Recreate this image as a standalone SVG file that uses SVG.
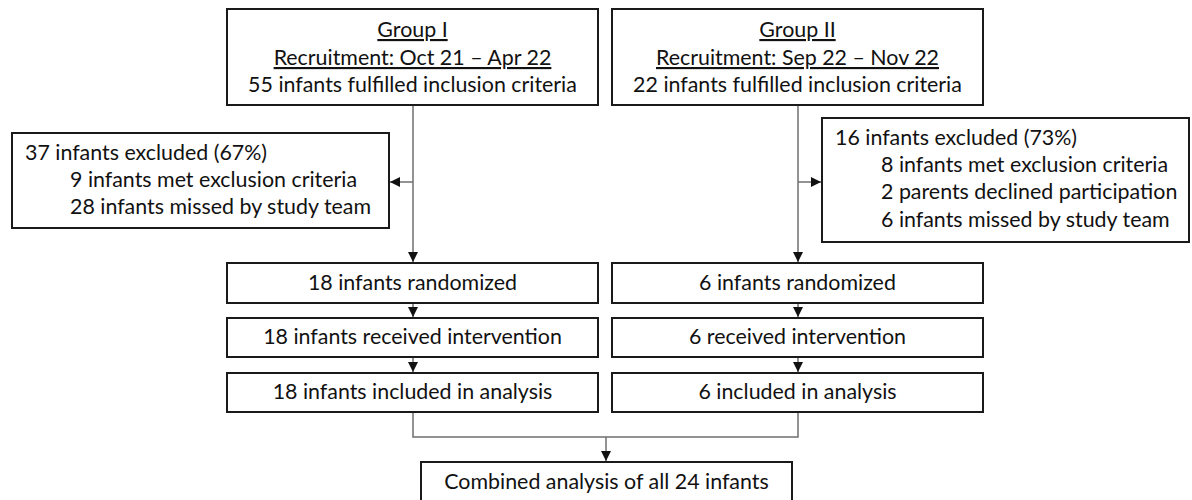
<svg xmlns="http://www.w3.org/2000/svg" width="1192" height="500" viewBox="0 0 1192 500">
<style>
.box{fill:#fff;stroke:#1a1a1a;stroke-width:2}
text{font-family:Lato,"Liberation Sans",sans-serif;font-size:21.4px;fill:#111}
.c{text-anchor:middle}
.u{text-decoration:underline}
.ln{fill:none;stroke:#6f6f6f;stroke-width:1.5}
</style>
<defs>
<marker id="ah" viewBox="0 0 10 10" refX="10" refY="5" markerWidth="10" markerHeight="10" markerUnits="userSpaceOnUse" orient="auto">
<path d="M0,0 L10,5 L0,10 z" fill="#111"/>
</marker>
</defs>
<rect width="1192" height="500" fill="#fff"/>
<g id="connectors">
<path class="ln" d="M413,105 V262" marker-end="url(#ah)"/>
<path class="ln" d="M413,182 H390" marker-end="url(#ah)"/>
<path class="ln" d="M798,105 V262" marker-end="url(#ah)"/>
<path class="ln" d="M798,182 H821" marker-end="url(#ah)"/>
<path class="ln" d="M413,303 V317" marker-end="url(#ah)"/>
<path class="ln" d="M413,357 V372" marker-end="url(#ah)"/>
<path class="ln" d="M798,303 V317" marker-end="url(#ah)"/>
<path class="ln" d="M798,357 V372" marker-end="url(#ah)"/>
<path class="ln" d="M413,412 V437 H798 V412"/>
<path class="ln" d="M606,437 V461" marker-end="url(#ah)"/>
</g>
<g id="group1">
<rect class="box" x="227" y="9" width="371" height="96"/>
<text class="c u" x="412.5" y="37">Group I</text>
<text class="c u" x="412.5" y="65">Recruitment: Oct 21 – Apr 22</text>
<text class="c" x="412.5" y="92">55 infants fulfilled inclusion criteria</text>
</g>
<g id="group2">
<rect class="box" x="612" y="9" width="371" height="96"/>
<text class="c u" x="797.5" y="37">Group II</text>
<text class="c u" x="797.5" y="65">Recruitment: Sep 22 – Nov 22</text>
<text class="c" x="797.5" y="92">22 infants fulfilled inclusion criteria</text>
</g>
<g id="excluded1">
<rect class="box" x="12" y="133" width="377" height="95"/>
<text x="25" y="160">37 infants excluded (67%)</text>
<text x="70" y="187">9 infants met exclusion criteria</text>
<text x="70" y="214">28 infants missed by study team</text>
</g>
<g id="excluded2">
<rect class="box" x="822" y="118" width="367" height="124"/>
<text x="835" y="145">16 infants excluded (73%)</text>
<text x="881" y="172">8 infants met exclusion criteria</text>
<text x="881" y="199">2 parents declined participation</text>
<text x="881" y="227">6 infants missed by study team</text>
</g>
<g id="rand1">
<rect class="box" x="227" y="263" width="371" height="40"/>
<text class="c" x="412.5" y="290">18 infants randomized</text>
</g>
<g id="interv1">
<rect class="box" x="227" y="318" width="371" height="39"/>
<text class="c" x="412.5" y="344">18 infants received intervention</text>
</g>
<g id="anal1">
<rect class="box" x="227" y="373" width="371" height="39"/>
<text class="c" x="412.5" y="399">18 infants included in analysis</text>
</g>
<g id="rand2">
<rect class="box" x="612" y="263" width="371" height="40"/>
<text class="c" x="797.5" y="290">6 infants randomized</text>
</g>
<g id="interv2">
<rect class="box" x="612" y="318" width="371" height="39"/>
<text class="c" x="797.5" y="344">6 received intervention</text>
</g>
<g id="anal2">
<rect class="box" x="612" y="373" width="371" height="39"/>
<text class="c" x="797.5" y="399">6 included in analysis</text>
</g>
<g id="combined">
<rect class="box" x="421" y="462" width="371" height="50"/>
<text class="c" x="606.5" y="489">Combined analysis of all 24 infants</text>
</g>
</svg>
